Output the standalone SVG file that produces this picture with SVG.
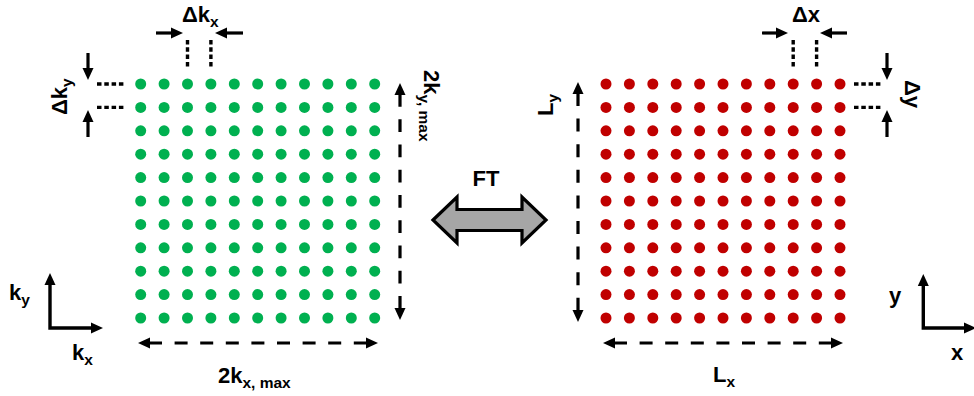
<svg xmlns="http://www.w3.org/2000/svg" xmlns:xlink="http://www.w3.org/1999/xlink" width="974" height="396" viewBox="0 0 974 396">
  <style>
    text { font-family: "Liberation Sans", Arial, sans-serif; font-weight: bold; fill: #000; }
    .lbl { font-size: 22px; }
    .sub { font-size: 15.5px; }
    .arrow { fill: none; stroke: #000; stroke-width: 3.2; marker-end: url(#head); }
    .span { fill: none; stroke: #000; stroke-width: 3.2; marker-start: url(#head); marker-end: url(#head);
            stroke-dasharray: 12 12.6 13 12.6 13 12.6 13 12.6 13 12.6 13 12.6 13 12.6 13 12.6 12.2; }
    .dots { fill: none; stroke: #000; stroke-width: 3.4; stroke-dasharray: 4.5 2.8; }
    .axis { fill: none; stroke: #000; stroke-width: 3.4; stroke-linejoin: miter; marker-start: url(#head); marker-end: url(#head); }
  </style>
  <defs>
    <marker id="head" markerUnits="userSpaceOnUse" viewBox="0 -6 12 12" refX="0" refY="0"
            markerWidth="12" markerHeight="12" orient="auto-start-reverse" overflow="visible">
      <path d="M0,-5.5 L12,0 L0,5.5 Z" fill="#000"/>
    </marker>
    <circle id="dot" r="5.5"/>
    <!-- one row of eleven sample points, 23.4 px apart -->
    <g id="row">
      <use xlink:href="#dot" x="0"/>
      <use xlink:href="#dot" x="23.4"/>
      <use xlink:href="#dot" x="46.8"/>
      <use xlink:href="#dot" x="70.2"/>
      <use xlink:href="#dot" x="93.6"/>
      <use xlink:href="#dot" x="117"/>
      <use xlink:href="#dot" x="140.4"/>
      <use xlink:href="#dot" x="163.8"/>
      <use xlink:href="#dot" x="187.2"/>
      <use xlink:href="#dot" x="210.6"/>
      <use xlink:href="#dot" x="234"/>
    </g>
    <g id="grid">
      <use xlink:href="#row" y="0"/>
      <use xlink:href="#row" y="23.4"/>
      <use xlink:href="#row" y="46.8"/>
      <use xlink:href="#row" y="70.2"/>
      <use xlink:href="#row" y="93.6"/>
      <use xlink:href="#row" y="117"/>
      <use xlink:href="#row" y="140.4"/>
      <use xlink:href="#row" y="163.8"/>
      <use xlink:href="#row" y="187.2"/>
      <use xlink:href="#row" y="210.6"/>
      <use xlink:href="#row" y="234"/>
    </g>
  </defs>

  <rect width="974" height="396" fill="#fff"/>

  <!-- k-space samples -->
  <g id="kspace-grid" fill="#00B050">
    <use xlink:href="#grid" transform="translate(140.7,84)"/>
  </g>

  <!-- image-space samples -->
  <g id="image-grid" fill="#C00000">
    <use xlink:href="#grid" transform="translate(606,84)"/>
  </g>

  <!-- Fourier transform double arrow -->
  <g id="ft">
    <polygon points="433,220 457,197 457,209.5 522,209.5 522,197 546,220 522,243 522,230.5 457,230.5 457,243"
             fill="#A6A6A6" stroke="#000" stroke-width="3.2" stroke-linejoin="miter"/>
    <text class="lbl" x="486" y="186" text-anchor="middle">FT</text>
  </g>

  <!-- dimension arrows, spacing markers and axes -->
  <g id="connectors">
    <!-- spacing in kx -->
    <line class="arrow" x1="156" y1="33" x2="171" y2="33"/>
    <line class="arrow" x1="243" y1="33" x2="227" y2="33"/>
    <line class="dots" x1="187.5" y1="40" x2="187.5" y2="67"/>
    <line class="dots" x1="210.9" y1="40" x2="210.9" y2="67"/>
    <!-- spacing in ky -->
    <line class="arrow" x1="88" y1="53" x2="88" y2="68"/>
    <line class="arrow" x1="88" y1="137" x2="88" y2="122"/>
    <line class="dots" x1="97" y1="84" x2="124" y2="84"/>
    <line class="dots" x1="97" y1="107.4" x2="124" y2="107.4"/>
    <!-- spacing in x -->
    <line class="arrow" x1="762" y1="33" x2="776" y2="33"/>
    <line class="arrow" x1="847" y1="33" x2="832" y2="33"/>
    <line class="dots" x1="793.2" y1="40" x2="793.2" y2="67"/>
    <line class="dots" x1="816.6" y1="40" x2="816.6" y2="67"/>
    <!-- spacing in y -->
    <line class="arrow" x1="887" y1="53" x2="887" y2="68"/>
    <line class="arrow" x1="887" y1="137" x2="887" y2="122"/>
    <line class="dots" x1="854" y1="84" x2="881" y2="84"/>
    <line class="dots" x1="854" y1="107.4" x2="881" y2="107.4"/>
    <!-- extents -->
    <line class="span" x1="400" y1="95" x2="400" y2="308" pathLength="216"/>
    <line class="span" x1="150" y1="343" x2="366" y2="343" pathLength="216"/>
    <line class="span" x1="578" y1="94" x2="578" y2="310" pathLength="216"/>
    <line class="span" x1="615" y1="343" x2="831" y2="343" pathLength="216"/>
    <!-- coordinate axes -->
    <polyline class="axis" points="50,285 50,328 91,328"/>
    <polyline class="axis" points="923.3,286 923.3,328 964,328"/>
  </g>

  <!-- labels -->
  <g id="labels">
    <text class="lbl" x="182" y="22">Δk<tspan class="sub" dy="5">x</tspan></text>
    <text class="lbl" transform="translate(67,115) rotate(-90)">Δk<tspan class="sub" dy="5">y</tspan></text>
    <text class="lbl" transform="translate(424,70) rotate(90)">2k<tspan class="sub" dy="5">y, max</tspan></text>
    <text class="lbl" x="218" y="383">2k<tspan class="sub" dy="5">x, max</tspan></text>
    <text class="lbl" x="9" y="300">k<tspan class="sub" dy="5">y</tspan></text>
    <text class="lbl" x="72" y="360">k<tspan class="sub" dy="5">x</tspan></text>
    <text class="lbl" x="792" y="22">Δx</text>
    <text class="lbl" transform="translate(905,80) rotate(90)">Δy</text>
    <text class="lbl" transform="translate(553,116) rotate(-90)">L<tspan class="sub" dy="5">y</tspan></text>
    <text class="lbl" x="713" y="382">L<tspan class="sub" dy="5">x</tspan></text>
    <text class="lbl" x="889" y="303">y</text>
    <text class="lbl" x="951" y="360">x</text>
  </g>
</svg>
